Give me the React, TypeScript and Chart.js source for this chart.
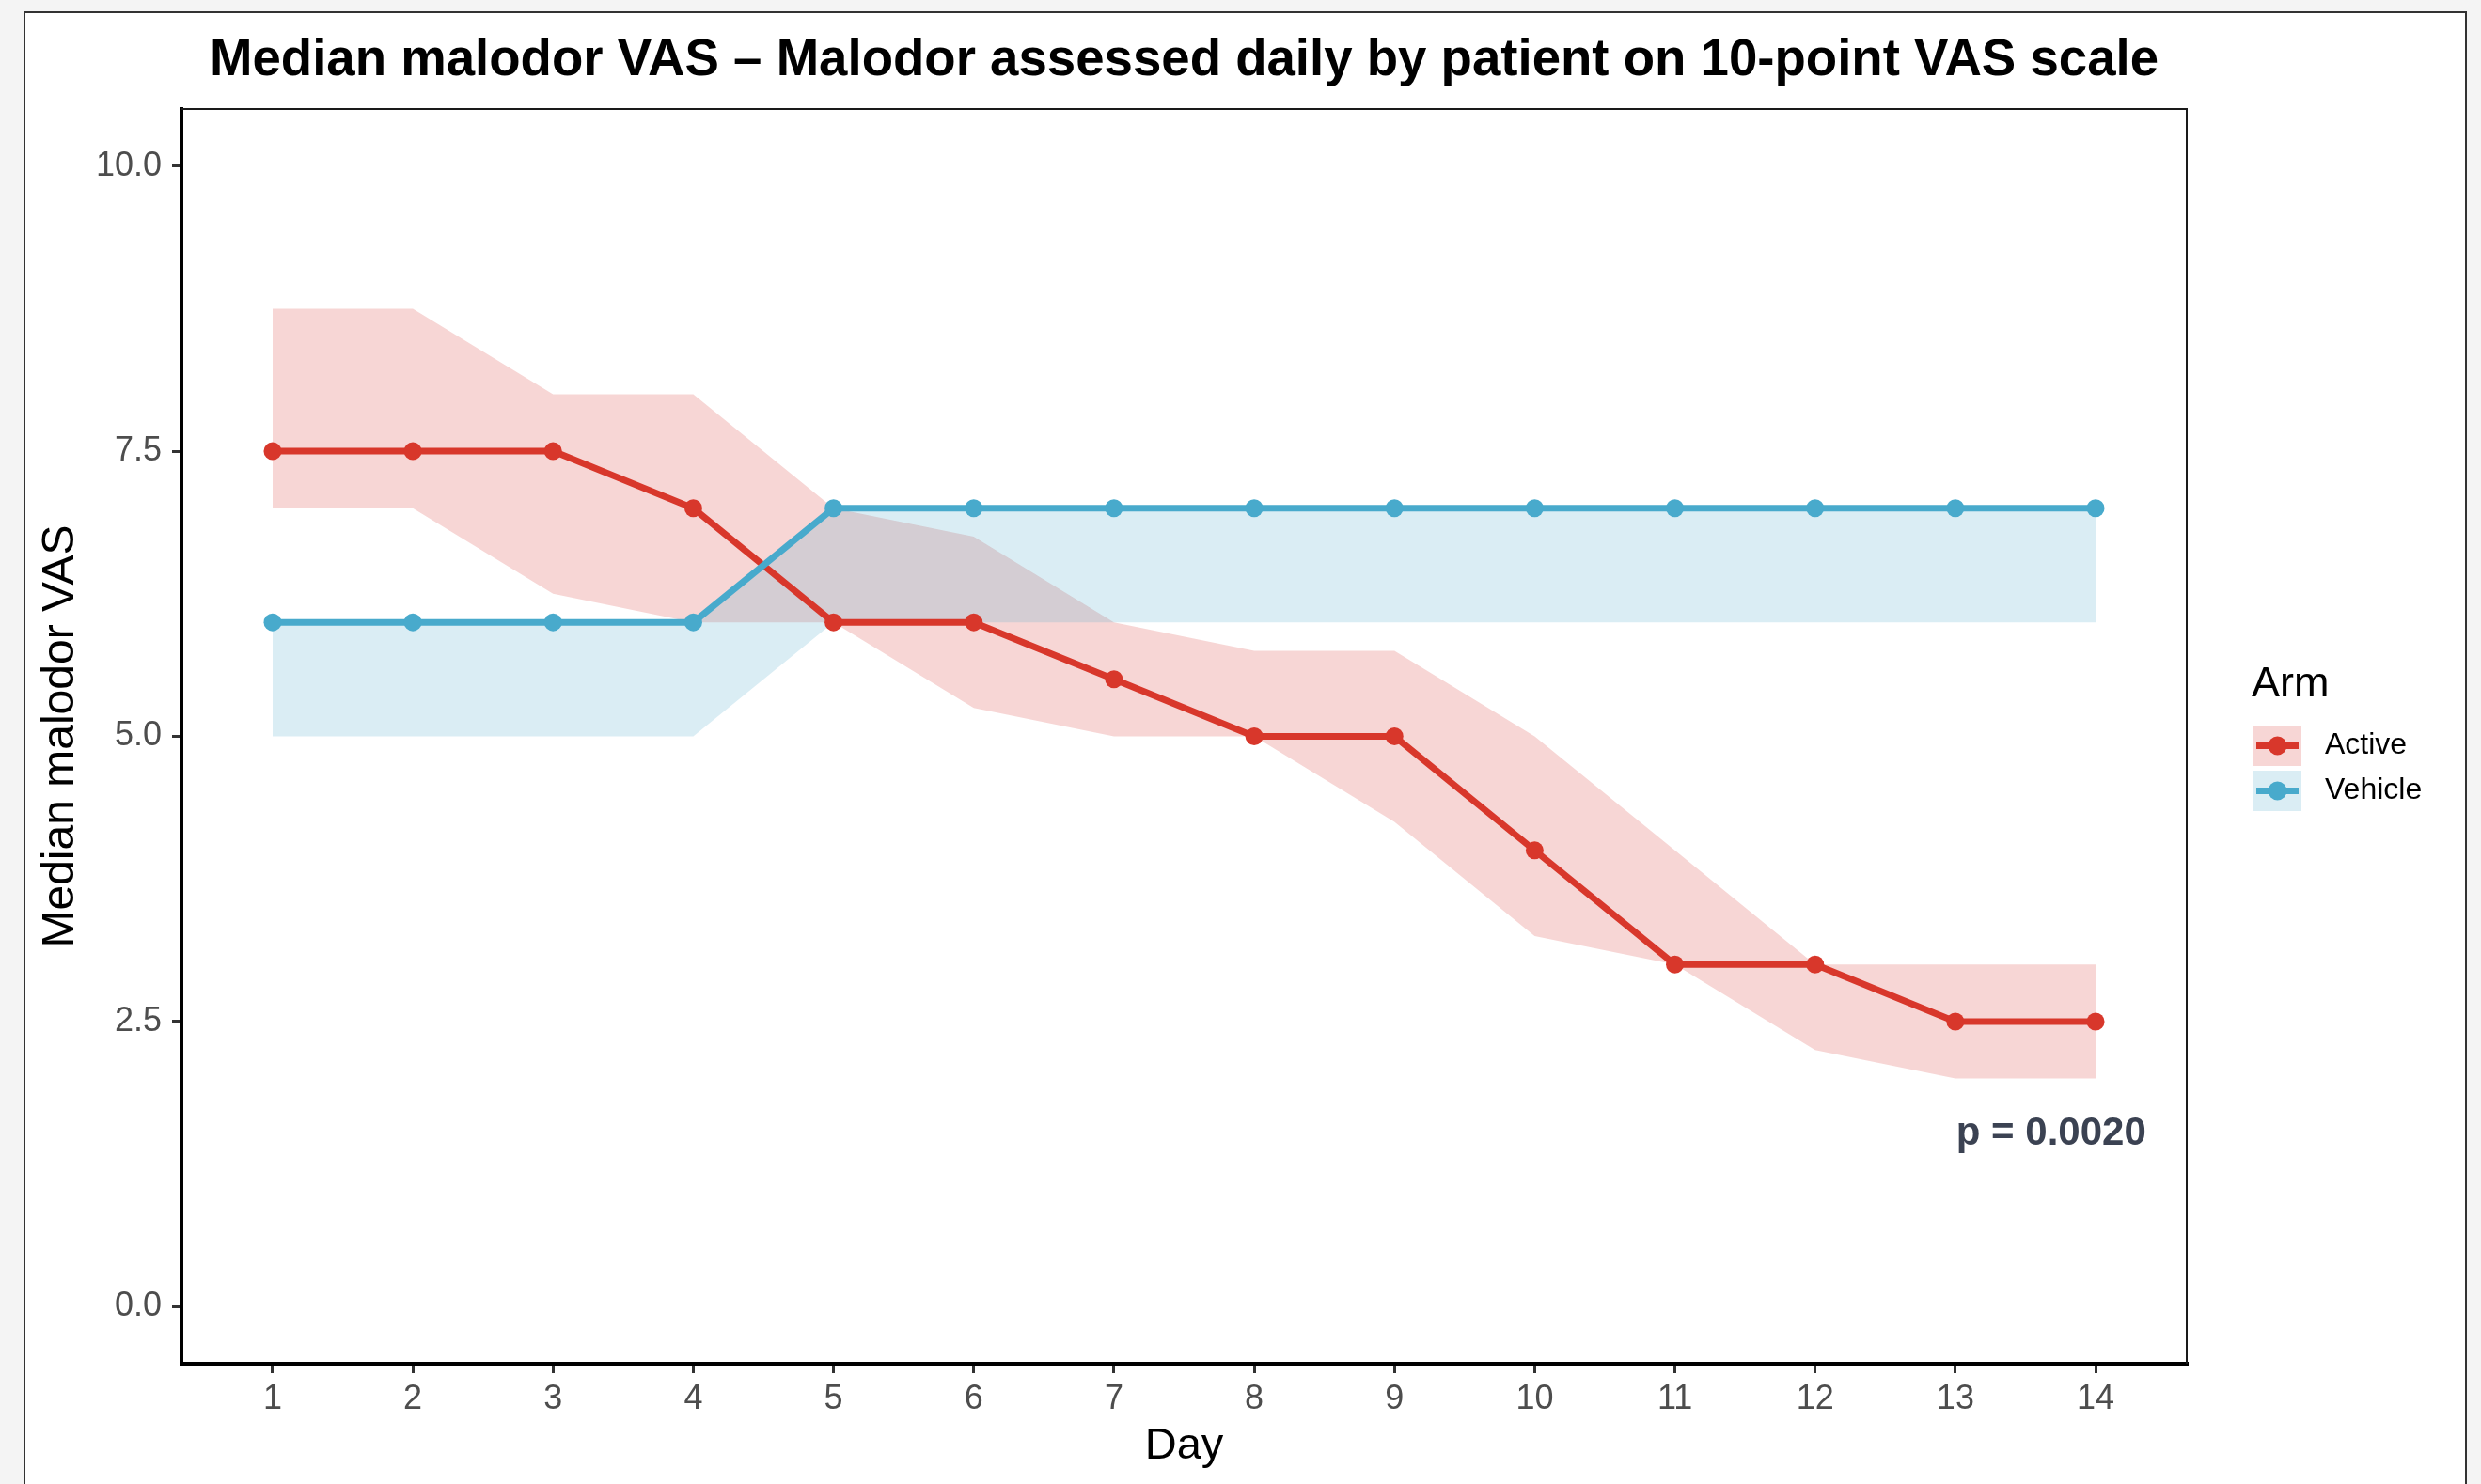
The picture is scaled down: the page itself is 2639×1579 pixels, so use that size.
import React, { useEffect, useRef } from 'react';
import { Chart, registerables } from 'chart.js';

Chart.register(...registerables);

// ---- Data ----
const days = [1, 2, 3, 4, 5, 6, 7, 8, 9, 10, 11, 12, 13, 14];
const activeMedian = [7.5, 7.5, 7.5, 7, 6, 6, 5.5, 5, 5, 4, 3, 3, 2.5, 2.5];
const activeUpper = [8.75, 8.75, 8, 8, 7, 6.75, 6, 5.75, 5.75, 5, 4, 3, 3, 3];
const activeLower = [7, 7, 6.25, 6, 6, 5.25, 5, 5, 4.25, 3.25, 3, 2.25, 2, 2];
const vehicleMedian = [6, 6, 6, 6, 7, 7, 7, 7, 7, 7, 7, 7, 7, 7];
const vehicleUpper = [6, 6, 6, 6, 7, 7, 7, 7, 7, 7, 7, 7, 7, 7];
const vehicleLower = [5, 5, 5, 5, 6, 6, 6, 6, 6, 6, 6, 6, 6, 6];
const yTicks = [0, 2.5, 5, 7.5, 10];
const armNames = ['Active', 'Vehicle'];

const titleText = 'Median malodor VAS \u2013 Malodor assessed daily by patient on 10-point VAS scale';
const xTitle = 'Day';
const yTitle = 'Median malodor VAS';
const legendTitle = 'Arm';
const pValueText = 'p = 0.0020';

// ---- Styles ----
const FAMILY = '"Liberation Sans", Arial, Helvetica, sans-serif';
const activeColor = '#d8372b';
const vehicleColor = '#48aacc';
const activeFill = 'rgba(215,50,45,0.2)';
const vehicleFill = 'rgba(70,165,200,0.2)';
const armColors = [activeColor, vehicleColor];
const armFills = [activeFill, vehicleFill];

const pts = (arr: number[]) => days.map((d, i) => ({ x: d, y: arr[i] }));

const overlayPlugin = {
  id: 'overlay',
  afterDraw(chart: any) {
    const { ctx, chartArea: ca, scales } = chart;
    ctx.save();
    // panel border (top & right, thin)
    ctx.strokeStyle = '#1a1a1a';
    ctx.lineWidth = 2;
    ctx.beginPath();
    ctx.moveTo(ca.left, ca.top);
    ctx.lineTo(ca.right, ca.top);
    ctx.lineTo(ca.right, ca.bottom);
    ctx.stroke();

    // title
    ctx.fillStyle = '#000';
    ctx.font = `bold 54.6px ${FAMILY}`;
    ctx.textAlign = 'center';
    ctx.textBaseline = 'alphabetic';
    ctx.fillText(titleText, (ca.left + ca.right) / 2, 80);

    // p-value annotation
    ctx.fillStyle = '#3b4252';
    ctx.font = `bold 42px ${FAMILY}`;
    ctx.textAlign = 'right';
    ctx.fillText(pValueText, scales.x.getPixelForValue(14.36), scales.y.getPixelForValue(1.42));

    // legend
    const lx = ca.right + 69;
    ctx.fillStyle = '#000';
    ctx.font = `45px ${FAMILY}`;
    ctx.textAlign = 'left';
    ctx.fillText(legendTitle, lx, 741);
    armNames.forEach((name, i) => {
      const top = 772 + i * 48;
      ctx.fillStyle = armFills[i];
      ctx.fillRect(lx + 2, top, 51, 43);
      const cy = top + 21.5;
      ctx.strokeStyle = armColors[i];
      ctx.lineWidth = 7;
      ctx.beginPath();
      ctx.moveTo(lx + 5, cy);
      ctx.lineTo(lx + 50, cy);
      ctx.stroke();
      ctx.fillStyle = armColors[i];
      ctx.beginPath();
      ctx.arc(lx + 27.5, cy, 10, 0, Math.PI * 2);
      ctx.fill();
      ctx.fillStyle = '#000';
      ctx.font = `32px ${FAMILY}`;
      ctx.textBaseline = 'middle';
      ctx.fillText(name, lx + 78, cy);
      ctx.textBaseline = 'alphabetic';
    });
    ctx.restore();
  },
};

export default function App() {
  const ref = useRef<HTMLCanvasElement>(null);

  useEffect(() => {
    const canvas = ref.current;
    if (!canvas) return;
    const bandBase = {
      borderWidth: 0,
      borderColor: 'rgba(0,0,0,0)',
      pointRadius: 0,
      pointHoverRadius: 0,
      tension: 0,
    };
    const chart = new Chart(canvas, {
      type: 'line',
      data: {
        datasets: [
          { ...bandBase, label: 'Active upper', data: pts(activeUpper), fill: false, order: 3 },
          { ...bandBase, label: 'Active lower', data: pts(activeLower), fill: '-1', backgroundColor: activeFill, order: 3 },
          { ...bandBase, label: 'Vehicle upper', data: pts(vehicleUpper), fill: false, order: 2 },
          { ...bandBase, label: 'Vehicle lower', data: pts(vehicleLower), fill: '-1', backgroundColor: vehicleFill, order: 2 },
          {
            label: armNames[0],
            data: pts(activeMedian),
            borderColor: activeColor,
            backgroundColor: activeColor,
            borderWidth: 7,
            pointRadius: 9.5,
            pointBackgroundColor: activeColor,
            pointBorderWidth: 0,
            fill: false,
            tension: 0,
            order: 1,
          },
          {
            label: armNames[1],
            data: pts(vehicleMedian),
            borderColor: vehicleColor,
            backgroundColor: vehicleColor,
            borderWidth: 7,
            pointRadius: 9.5,
            pointBackgroundColor: vehicleColor,
            pointBorderWidth: 0,
            fill: false,
            tension: 0,
            order: 0,
          },
        ] as any,
      },
      options: {
        responsive: false,
        animation: false,
        devicePixelRatio: 1,
        events: [],
        layout: { padding: { left: 0, top: 116, right: 313, bottom: 0 } },
        plugins: {
          legend: { display: false },
          title: { display: false },
          tooltip: { enabled: false },
        },
        scales: {
          x: {
            type: 'linear',
            min: 0.35,
            max: 14.65,
            afterBuildTicks: (s: any) => {
              s.ticks = days.map((v) => ({ value: v }));
            },
            afterFit: (s: any) => {
              s.height = 128;
            },
            ticks: {
              autoSkip: false,
              maxRotation: 0,
              padding: 6,
              color: '#4d4d4d',
              font: { size: 36, family: FAMILY },
              callback: (v: any) => String(v),
            },
            grid: {
              drawOnChartArea: false,
              drawTicks: true,
              tickLength: 10,
              tickWidth: 3,
              tickColor: '#333',
              lineWidth: 3,
            },
            border: { display: true, color: '#000', width: 4 },
            title: {
              display: true,
              text: xTitle,
              color: '#000',
              font: { size: 47, family: FAMILY },
              padding: { top: 0, bottom: 12 },
            },
          },
          y: {
            type: 'linear',
            min: -0.5,
            max: 10.5,
            afterBuildTicks: (s: any) => {
              s.ticks = yTicks.map((v) => ({ value: v }));
            },
            afterFit: (s: any) => {
              s.width = 193;
            },
            ticks: {
              padding: 11,
              color: '#4d4d4d',
              font: { size: 36, family: FAMILY },
              callback: (v: any) => Number(v).toFixed(1),
            },
            grid: {
              drawOnChartArea: false,
              drawTicks: true,
              tickLength: 10,
              tickWidth: 3,
              tickColor: '#333',
              lineWidth: 3,
            },
            border: { display: true, color: '#000', width: 4 },
            title: {
              display: true,
              text: yTitle,
              color: '#000',
              font: { size: 48, family: FAMILY },
              padding: { top: 36, bottom: 0 },
            },
          },
        },
      } as any,
      plugins: [overlayPlugin],
    });
    return () => chart.destroy();
  }, []);

  return (
    <div
      style={{
        position: 'fixed',
        left: 0,
        top: 0,
        width: 2639,
        height: 1579,
        background: '#f4f4f4',
        overflow: 'hidden',
      }}
    >
      <div
        style={{
          position: 'absolute',
          left: 25,
          top: 12,
          width: 2599,
          height: 1640,
          border: '2px solid #333',
          background: '#fff',
          boxSizing: 'border-box',
        }}
      />
      <canvas
        ref={ref}
        width={2639}
        height={1579}
        style={{ position: 'absolute', left: 0, top: 0, width: 2639, height: 1579 }}
      />
    </div>
  );
}
